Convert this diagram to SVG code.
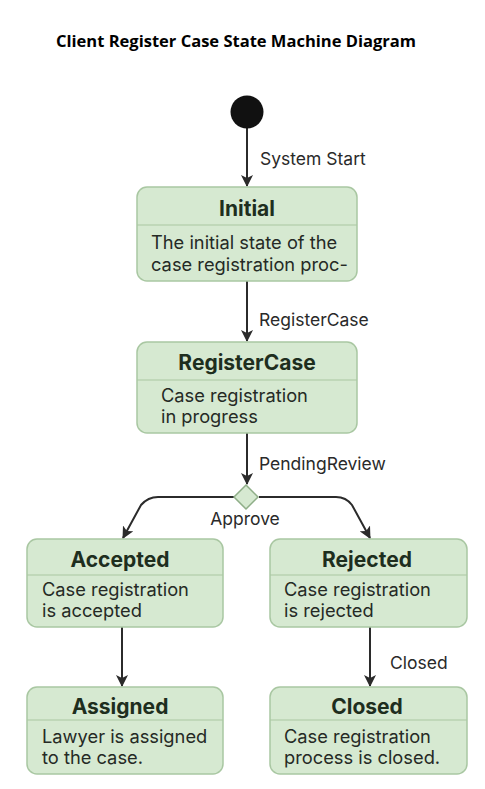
<svg xmlns="http://www.w3.org/2000/svg" width="485" height="789" viewBox="0 0 485 789">
<style>
.box{fill:#d6e9d1;stroke:#a9c7a2;stroke-width:1.5}
.div{stroke:#a9c7a2;stroke-width:1.2}
.title{font-family:Inter,"Liberation Sans",sans-serif;font-weight:bold;font-size:21px;fill:#1e2e1e;text-anchor:middle}
.body{font-family:Inter,"Liberation Sans",sans-serif;font-size:18.3px;fill:#252a25}
.lbl{font-family:Inter,"Liberation Sans",sans-serif;font-size:17.5px;fill:#2a2a2a}
.edge{fill:none;stroke:#2b2b2b;stroke-width:2}
</style>
<defs>
<marker id="arr" viewBox="0 0 12 12" refX="11" refY="6" markerWidth="12" markerHeight="12" markerUnits="userSpaceOnUse" orient="auto">
<path d="M0,0 L12,6 L0,12 L3,6 Z" fill="#2b2b2b"/>
</marker>
</defs>
<rect width="485" height="789" fill="#ffffff"/>
<text x="56" y="47" font-family="'Open Sans','Liberation Sans',sans-serif" font-weight="bold" font-size="16" textLength="360" lengthAdjust="spacingAndGlyphs" fill="#000">Client Register Case State Machine Diagram</text>

<g id="connectors">
<line class="edge" x1="247" y1="128" x2="247" y2="186" marker-end="url(#arr)"/>
<text class="lbl" x="260" y="165">System Start</text>
<line class="edge" x1="247" y1="281" x2="247" y2="341" marker-end="url(#arr)"/>
<text class="lbl" x="259" y="326">RegisterCase</text>
<line class="edge" x1="247" y1="433" x2="247" y2="484" marker-end="url(#arr)"/>
<text class="lbl" x="259" y="470">PendingReview</text>
<path class="edge" d="M234,497 L158,497 Q148,497 141,505 L123,538" marker-end="url(#arr)"/>
<path class="edge" d="M259,497 L336,497 Q346,497 352,505 L370,538" marker-end="url(#arr)"/>
<text class="lbl" x="245" y="525" text-anchor="middle">Approve</text>
<line class="edge" x1="122" y1="627" x2="122" y2="686" marker-end="url(#arr)"/>
<line class="edge" x1="370" y1="627" x2="370" y2="686" marker-end="url(#arr)"/>
<text class="lbl" x="390" y="669">Closed</text>
</g>

<g id="start">
<circle cx="247" cy="112" r="16.5" fill="#111"/>
</g>

<g id="initial">
<rect class="box" x="137" y="187" width="220" height="94" rx="10"/>
<line class="div" x1="137" y1="225" x2="357" y2="225"/>
<text class="title" x="247" y="216">Initial</text>
<text class="body" x="151" y="249">The initial state of the</text>
<text class="body" x="151" y="271">case registration proc-</text>
</g>

<g id="registercase">
<rect class="box" x="137" y="342" width="220" height="91" rx="10"/>
<line class="div" x1="137" y1="380" x2="357" y2="380"/>
<text class="title" x="247" y="370">RegisterCase</text>
<text class="body" x="161" y="402">Case registration</text>
<text class="body" x="161" y="423">in progress</text>
</g>

<g id="decision">
<polygon points="246,485 258,497 246,509 234,497" fill="#d6e9d1" stroke="#8fae88" stroke-width="1.5"/>
</g>

<g id="accepted">
<rect class="box" x="27" y="539" width="196" height="88" rx="10"/>
<line class="div" x1="27" y1="575" x2="223" y2="575"/>
<text class="title" x="120" y="567">Accepted</text>
<text class="body" x="42" y="596">Case registration</text>
<text class="body" x="42" y="617">is accepted</text>
</g>

<g id="rejected">
<rect class="box" x="270" y="539" width="197" height="88" rx="10"/>
<line class="div" x1="270" y1="575" x2="467" y2="575"/>
<text class="title" x="367" y="567">Rejected</text>
<text class="body" x="284" y="596">Case registration</text>
<text class="body" x="284" y="617">is rejected</text>
</g>

<g id="assigned">
<rect class="box" x="27" y="687" width="196" height="87" rx="10"/>
<line class="div" x1="27" y1="720" x2="223" y2="720"/>
<text class="title" x="120" y="714">Assigned</text>
<text class="body" x="42" y="743">Lawyer is assigned</text>
<text class="body" x="42" y="764">to the case.</text>
</g>

<g id="closed">
<rect class="box" x="270" y="687" width="197" height="87" rx="10"/>
<line class="div" x1="270" y1="720" x2="467" y2="720"/>
<text class="title" x="367" y="714">Closed</text>
<text class="body" x="284" y="743">Case registration</text>
<text class="body" x="284" y="764">process is closed.</text>
</g>
</svg>
